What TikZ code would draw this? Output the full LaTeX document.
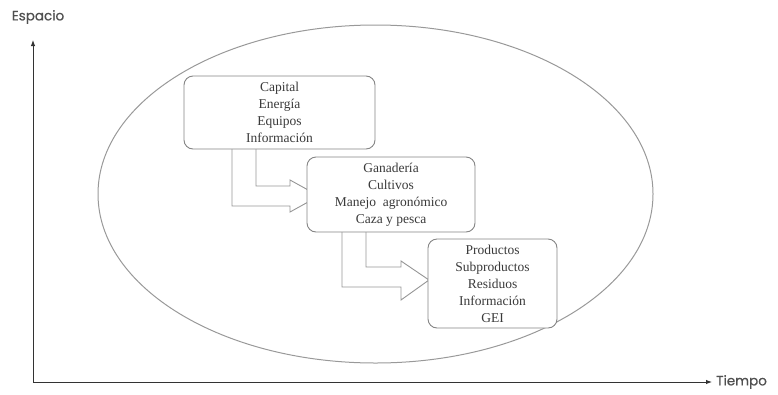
\documentclass[tikz,border=0pt]{standalone}
\usepackage{fontspec}
\setmainfont{Liberation Serif}
\newfontfamily\axisfont[FakeBold=0.6]{Poppins}
\usetikzlibrary{calc,arrows.meta}

\definecolor{inktext}{HTML}{3A3A3A}
\definecolor{boxline}{HTML}{858585}
\definecolor{shaftline}{HTML}{959595}
\definecolor{ringline}{HTML}{999999}
\definecolor{axisline}{HTML}{333333}
\definecolor{axistext}{HTML}{505050}

\tikzset{
  stagebox/.style={draw=boxline, line width=0.9pt, fill=white, rounded corners=9pt,
    inner sep=0pt, align=center, text=inktext,
    font=\fontsize{13.5}{17}\selectfont},
  blockarrow/.style={draw=shaftline, line width=0.9pt, line join=miter},
  ring/.style={draw=ringline, line width=1pt},
  axis/.style={draw=axisline, line width=1pt, -{Latex[length=6pt,width=4.5pt]}},
  axislabel/.style={text=axistext, inner sep=0pt, font=\axisfont\fontsize{13.5}{15}\selectfont}
}

\begin{document}
\begin{tikzpicture}[x=1pt, y=-1pt]
  \useasboundingbox (0,0) rectangle (778,394);

  % axes
  \coordinate (origin) at (33,382);
  \coordinate (ytip) at (33,40);
  \coordinate (xtip) at (712,382);
  \node[axislabel] (espacio) at (38,17) {Espacio};
  \node[axislabel, anchor=west] (tiempo) at (716,382) {Tiempo};
  \draw[axis] (origin) -- (ytip);
  \draw[axis] (origin) -- (xtip);

  % enclosing ellipse
  \draw[ring] (375.5,194) ellipse [x radius=277.5pt, y radius=169pt];

  % box positions (drawn after the arrows so they cover the arrow tips)
  \path (279.5,112.5) coordinate (c1)
        (391,194.5) coordinate (c2)
        (492.5,283.5) coordinate (c3);

  % block arrow from the first box to the second
  \draw[blockarrow] (256,149) |- (290,186) -- (290,180) -- (319,196)
        -- (290,212) -- (290,206) -| (232,149);
  % block arrow from the second box to the third
  \draw[blockarrow] (366,232) |- (401,267) -- (401,261) -- (429,280)
        -- (401,300) -- (401,287) -| (342,232);

  % stages
  \node[stagebox, minimum width=191pt, minimum height=73pt] (b1) at (c1)
    {Capital\\Energía\\Equipos\\Información};
  \node[stagebox, minimum width=168pt, minimum height=75pt] (b2) at (c2)
    {Ganadería\\Cultivos\\Manejo\enspace agronómico\\Caza y pesca};
  \node[stagebox, minimum width=129pt, minimum height=89pt] (b3) at (c3)
    {Productos\\Subproductos\\Residuos\\Información\\GEI};
\end{tikzpicture}
\end{document}
